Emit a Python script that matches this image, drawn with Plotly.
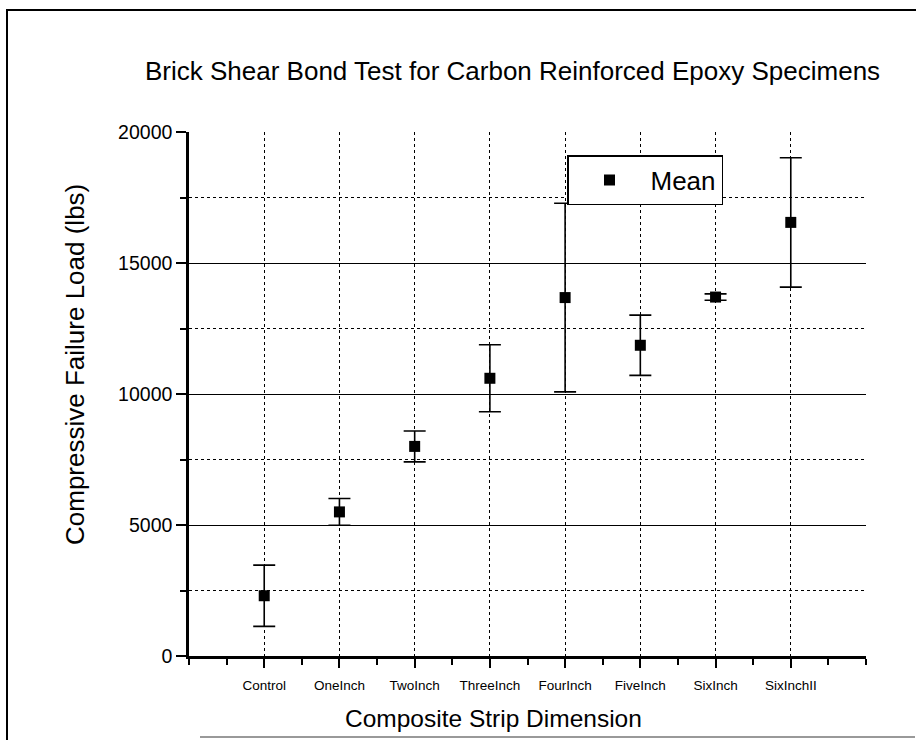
import plotly.graph_objects as go

categories = ["Control", "OneInch", "TwoInch", "ThreeInch", "FourInch", "FiveInch", "SixInch", "SixInchII"]
mean_load = [2300, 5500, 8000, 10600, 13680, 11860, 13700, 16550]
err_load = [1170, 510, 590, 1280, 3600, 1150, 120, 2470]
y_major = [0, 5000, 10000, 15000, 20000]
y_major_text = ["0", "5000", "10000", "15000", "20000"]
y_grid_solid = [5000, 10000, 15000]
y_grid_dot = [2500, 7500, 12500, 17500]

FONT = "Liberation Sans, Arial, Helvetica, sans-serif"
xpos = list(range(len(categories)))

W, H = 916, 740
L, R, T, B = 189, 50, 132, 84
pw, ph = W - L - R, H - T - B


def px(xp):
    return (xp - L) / pw


def py(yp):
    return (H - B - yp) / ph


fig = go.Figure()
fig.add_trace(go.Scatter(
    x=xpos, y=mean_load, mode="markers", name="Mean",
    marker=dict(symbol="square", size=11, color="black"),
    error_y=dict(type="data", array=err_load, visible=True,
                 color="black", thickness=1.6, width=11),
    yaxis="y",
))
fig.add_trace(go.Scatter(x=[None], y=[None], yaxis="y2", showlegend=False,
                         hoverinfo="skip", mode="markers"))

fig.update_layout(
    width=W, height=H, autosize=False,
    margin=dict(l=L, r=R, t=T, b=B, pad=0),
    paper_bgcolor="white", plot_bgcolor="white",
    font=dict(family=FONT, color="black"),
    showlegend=True,
    legend=dict(
        x=px(567), y=py(155), xanchor="left", yanchor="top",
        bordercolor="black", borderwidth=1.5, bgcolor="white",
        font=dict(size=26, family=FONT, color="black"),
        itemwidth=72,
    ),
    xaxis=dict(
        range=[-1, 8], tickmode="array", tickvals=xpos, ticktext=categories,
        showline=True, linecolor="black", linewidth=2.5,
        ticks="outside", ticklen=9, tickwidth=2, tickcolor="black",
        tickfont=dict(size=13.5, family=FONT, color="black"),
        ticklabelstandoff=6,
        showgrid=True, gridcolor="black", gridwidth=1.1, griddash="dot",
        zeroline=False,
        minor=dict(dtick=0.5, tick0=-1, ticks="outside", ticklen=6,
                   tickwidth=2, tickcolor="black", showgrid=False),
    ),
    yaxis=dict(
        range=[0, 20000], tickmode="array", tickvals=y_grid_solid,
        showticklabels=False, ticks="", showline=False, zeroline=False,
        showgrid=True, gridcolor="black", gridwidth=1.3,
        minor=dict(tickmode="array", tickvals=y_grid_dot, ticks="",
                   showgrid=True, gridcolor="black", gridwidth=1.1,
                   griddash="dot"),
    ),
    yaxis2=dict(
        overlaying="y", side="left", anchor="x",
        range=[0, 20000], tickmode="array", tickvals=y_major,
        ticktext=y_major_text,
        showline=True, linecolor="black", linewidth=2.5,
        ticks="outside", ticklen=10, tickwidth=2, tickcolor="black",
        tickfont=dict(size=19.5, family=FONT, color="black"),
        showgrid=False, zeroline=False,
        minor=dict(tickmode="array", tickvals=y_grid_dot, ticks="outside",
                   ticklen=6, tickwidth=1.5, tickcolor="black", showgrid=False),
    ),
    annotations=[
        dict(text="Brick Shear Bond Test for Carbon Reinforced Epoxy Specimens",
             xref="paper", yref="paper", x=px(512), y=py(71),
             xanchor="center", yanchor="middle", showarrow=False,
             font=dict(size=26, family=FONT, color="black")),
        dict(text="Compressive Failure Load (lbs)",
             xref="paper", yref="paper", x=px(75), y=py(365),
             xanchor="center", yanchor="middle", showarrow=False, textangle=-90,
             font=dict(size=26, family=FONT, color="black")),
        dict(text="Composite Strip Dimension",
             xref="paper", yref="paper", x=px(493), y=py(718),
             xanchor="center", yanchor="middle", showarrow=False,
             font=dict(size=24.5, family=FONT, color="black")),
    ],
    shapes=[
        dict(type="rect", xref="paper", yref="paper", x0=px(7), x1=px(940),
             y0=py(10), y1=py(770), line=dict(color="black", width=2),
             fillcolor="rgba(0,0,0,0)", layer="above"),
        dict(type="line", xref="paper", yref="paper", x0=px(200), x1=px(915),
             y0=py(737), y1=py(737), line=dict(color="#777777", width=1.5)),
    ],
)

fig.write_html("out.html", config={"displayModeBar": False},
               post_script="document.body.style.margin='0px';document.body.style.overflow='hidden';")
